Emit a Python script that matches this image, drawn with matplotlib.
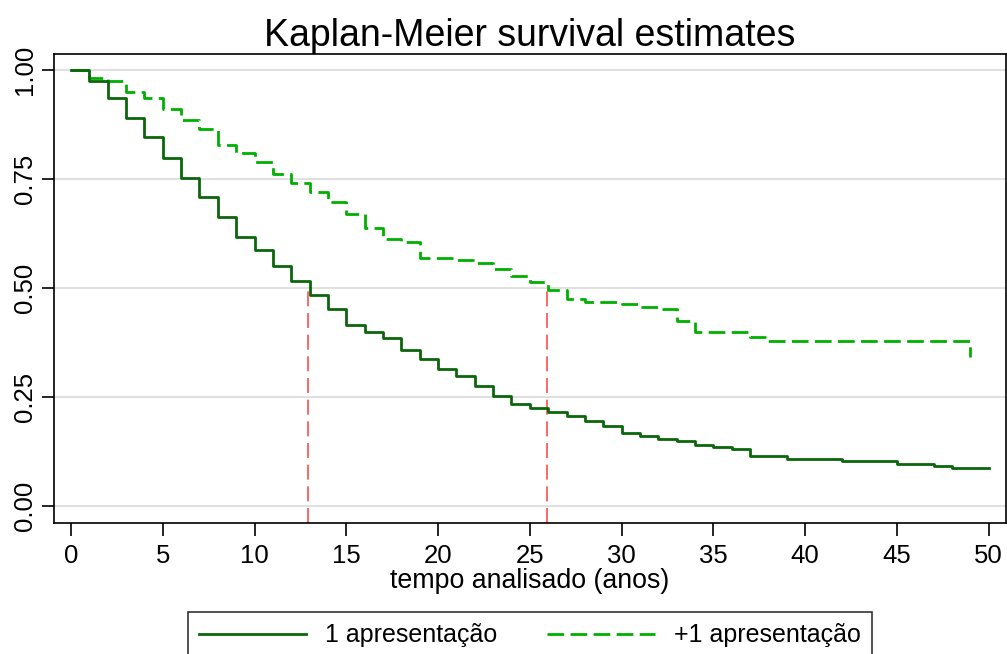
import matplotlib
matplotlib.use("Agg")
import matplotlib.pyplot as plt

plt.rcParams['font.family'] = ['Liberation Sans', 'DejaVu Sans']

# group "1 apresentação": step times (years) and survival after each step
t1 = [0, 1, 2, 3, 4, 5, 6, 7, 8, 9, 10, 11, 12, 13, 14, 15, 16, 17, 18, 19, 20,
      21, 22, 23, 24, 25, 26, 27, 28, 29, 30, 31, 32, 33, 34, 35, 36, 37, 39,
      42, 45, 47, 48, 50]
s1 = [1.0, 0.975, 0.935, 0.889, 0.846, 0.799, 0.752, 0.709, 0.663, 0.616, 0.588,
      0.551, 0.515, 0.484, 0.451, 0.415, 0.398, 0.385, 0.358, 0.337, 0.313,
      0.297, 0.274, 0.251, 0.233, 0.225, 0.216, 0.206, 0.194, 0.183, 0.167,
      0.159, 0.153, 0.148, 0.140, 0.134, 0.130, 0.115, 0.108, 0.103, 0.096,
      0.092, 0.086, 0.086]

# group "+1 apresentação"
t2 = [0, 1, 2, 3, 4, 5, 6, 7, 8, 9, 10, 11, 12, 13, 14, 15, 16, 17, 18, 19,
      21, 22, 23, 24, 25, 26, 27, 28, 30, 31, 32, 33, 34, 37, 38, 49]
s2 = [1.0, 0.981, 0.975, 0.949, 0.936, 0.911, 0.885, 0.865, 0.828, 0.810, 0.790,
      0.761, 0.740, 0.721, 0.698, 0.669, 0.637, 0.612, 0.606, 0.568, 0.563,
      0.557, 0.544, 0.528, 0.514, 0.494, 0.474, 0.467, 0.463, 0.457, 0.452,
      0.425, 0.398, 0.388, 0.379, 0.342]

# median survival markers
medianas = [12.93, 25.93]

rotulos = ['1 apresentação', '+1 apresentação']

fig = plt.figure(figsize=(10.07, 6.54), dpi=100)
ax = fig.add_axes([0.0536, 0.2003, 0.9454, 0.7171])

for y in [0, 0.25, 0.5, 0.75, 1.0]:
    ax.axhline(y, color='#e0e0e0', lw=1.5, zorder=0)

for m in medianas:
    ax.vlines(m, -0.04, 0.5, color='#ff4d4d', lw=1.2, linestyles=(0, (9, 4)), zorder=1)

ax.step(t1, s1, where='post', color='#0b660b', lw=2.0, label=rotulos[0], zorder=3)
ax.step(t2, s2, where='post', color='#00b000', lw=2.0, label=rotulos[1],
        dashes=(6.0, 2.3), zorder=2)

ax.set_xlim(-0.93, 50.95)
ax.set_ylim(-0.04, 1.037)
ax.set_xticks(range(0, 51, 5))
ax.set_yticks([0, 0.25, 0.5, 0.75, 1.0])
ax.set_yticklabels(['0.00', '0.25', '0.50', '0.75', '1.00'], rotation=90, va='center')
ax.tick_params(labelsize=18.5, length=9, width=1.2)
ax.tick_params(axis='x', pad=6)
for sp in ax.spines.values():
    sp.set_linewidth(1.2)

ax.set_xlabel('tempo analisado (anos)', fontsize=19.3, labelpad=0)
ax.set_title('Kaplan-Meier survival estimates', fontsize=27, pad=5)

leg = fig.legend(loc='upper center', bbox_to_anchor=(0.526, 0.0642), ncol=2,
                 fontsize=18, frameon=True, fancybox=False, edgecolor='black',
                 handlelength=4.3, handletextpad=0.75, columnspacing=2.0,
                 borderpad=0.45, borderaxespad=0)
leg.get_frame().set_linewidth(1.2)

fig.savefig('out.png', dpi=100)
